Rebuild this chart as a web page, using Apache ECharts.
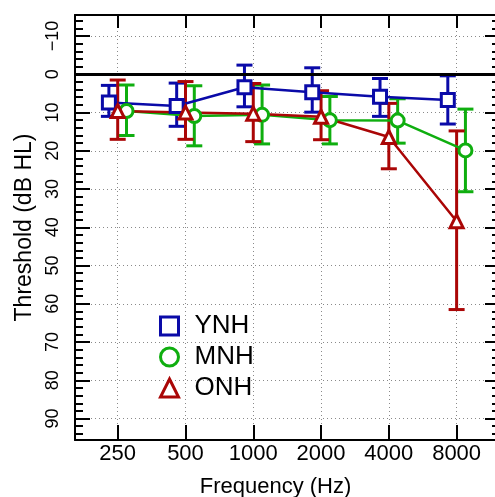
<!DOCTYPE html>
<html lang="en">
<head>
    <meta charset="UTF-8">
    <title>Audiogram</title>
    <script src="https://cdn.jsdelivr.net/npm/echarts@6/dist/echarts.min.js"></script>
    <style type="text/css">
        html, body {
            margin: 0;
            padding: 0;
            background: #fff;
        }
        #chart {
            width: 495px;
            height: 497px;
        }
    </style>
</head>
<body>
<div id="chart"></div>
<script type="text/javascript">
    // frequencies (x axis, one octave apart)
    var freqLabels = ['250', '500', '1000', '2000', '4000', '8000'];

    // mean thresholds and error bar ends (dB HL)
    var ynhMean = [7.4, 8.3, 3.4, 4.7, 5.9, 6.7];
    var ynhLow  = [2.9, 2.3, -2.4, -1.7, 1.1, 0.4];
    var ynhHigh = [11, 13.6, 8.5, 9.9, 11, 13];

    var mnhMean = [9.6, 10.9, 10.6, 12, 12.1, 19.9];
    var mnhLow  = [2.8, 3, 2.8, 5.8, 6.4, 9.1];
    var mnhHigh = [16, 18.7, 18.2, 18.2, 18, 30.7];

    var onhMean = [9.6, 10, 10.3, 11.1, 16.4, 38.4];
    var onhLow  = [1.5, 1.9, 2.4, 4.3, 7.6, 14.8];
    var onhHigh = [17, 17, 17.6, 17.1, 24.7, 61.5];

    var groups = [
        {name: 'YNH', mean: ynhMean, low: ynhLow, high: ynhHigh, color: '#0a0aa8', symbol: 'rect', shift: -0.13},
        {name: 'MNH', mean: mnhMean, low: mnhLow, high: mnhHigh, color: '#0fae0f', symbol: 'circle', shift: 0.13},
        {name: 'ONH', mean: onhMean, low: onhLow, high: onhHigh, color: '#aa0606', symbol: 'triangle', shift: 0}
    ];

    var font = 'Liberation Sans';

    var chart = echarts.init(document.getElementById('chart'));

    function renderErr(params, api) {
        var x = api.value(0);
        var p1 = api.coord([x, api.value(1)]);
        var p2 = api.coord([x, api.value(2)]);
        var w = 8;
        var style = {stroke: api.visual('color'), lineWidth: 3};
        return {
            type: 'group',
            children: [
                {type: 'line', shape: {x1: p1[0], y1: p1[1], x2: p2[0], y2: p2[1]}, style: style},
                {type: 'line', shape: {x1: p1[0] - w, y1: p1[1], x2: p1[0] + w, y2: p1[1]}, style: style},
                {type: 'line', shape: {x1: p2[0] - w, y1: p2[1], x2: p2[0] + w, y2: p2[1]}, style: style}
            ]
        };
    }

    function xLabel(v) {
        var i = Math.round(v);
        if (Math.abs(v - i) > 1e-6 || i < 0 || i >= freqLabels.length) return '';
        return freqLabels[i];
    }

    var series = [];
    var legendData = [];
    groups.forEach(function (g) {
        var err = [], pts = [];
        for (var i = 0; i < g.mean.length; i++) {
            err.push([i + g.shift, g.low[i], g.high[i]]);
            pts.push([i + g.shift, g.mean[i]]);
        }
        series.push({
            type: 'custom',
            name: g.name + ' sd',
            renderItem: renderErr,
            itemStyle: {color: g.color},
            encode: {x: 0, y: [1, 2]},
            data: err,
            silent: true
        });
        series.push({
            type: 'line',
            name: g.name,
            data: pts,
            symbol: g.symbol,
            symbolSize: 13,
            lineStyle: {color: g.color, width: 2.5},
            itemStyle: {color: '#fff', borderColor: g.color, borderWidth: 3},
            silent: true
        });
        legendData.push({
            name: g.name,
            icon: g.symbol,
            itemStyle: {color: '#fff', borderColor: g.color, borderWidth: 3}
        });
    });

    // 0 dB reference line
    series[1].markLine = {
        silent: true,
        symbol: 'none',
        label: {show: false},
        lineStyle: {color: '#000', width: 3, type: 'solid'},
        data: [{yAxis: 0}]
    };

    var dotted = {show: true, lineStyle: {color: '#8a8a8a', width: 1, type: [1, 3]}};
    var frame = {show: true, onZero: false, lineStyle: {color: '#000', width: 2}};

    var option = {
        animation: false,
        grid: {left: 75, top: 15, width: 425, height: 425, outerBoundsMode: 'none', containLabel: false},
        legend: {
            orient: 'vertical',
            left: 154,
            top: 308,
            itemWidth: 18,
            itemHeight: 18,
            itemGap: 5,
            selectedMode: false,
            textStyle: {fontFamily: font, fontSize: 26, color: '#000', padding: [0, 0, 0, 11]},
            data: legendData
        },
        xAxis: [{
            type: 'value',
            min: -0.63,
            max: 5.64,
            minInterval: 1,
            maxInterval: 1,
            name: 'Frequency (Hz)',
            nameLocation: 'middle',
            nameGap: 36,
            nameTextStyle: {fontFamily: font, fontSize: 22, color: '#000', padding: [0, 24, 0, 0]},
            axisLine: frame,
            axisTick: {inside: true, length: 15, lineStyle: {color: '#000', width: 2}},
            axisLabel: {
                fontFamily: font, fontSize: 22, color: '#000', margin: 3,
                showMinLabel: false, showMaxLabel: false, formatter: xLabel
            },
            splitLine: dotted
        }, {
            type: 'value',
            position: 'top',
            min: -0.63,
            max: 5.64,
            minInterval: 1,
            maxInterval: 1,
            axisLine: frame,
            axisTick: {inside: true, length: 13, lineStyle: {color: '#000', width: 2}},
            axisLabel: {show: false},
            splitLine: {show: false}
        }],
        yAxis: [{
            type: 'value',
            inverse: true,
            min: -15.5,
            max: 95.6,
            minInterval: 10,
            maxInterval: 10,
            name: 'Threshold (dB HL)',
            nameLocation: 'middle',
            nameGap: 28,
            nameTextStyle: {fontFamily: font, fontSize: 23, color: '#000'},
            axisLine: frame,
            axisTick: {inside: true, length: 15, lineStyle: {color: '#000', width: 2}},
            minorTick: {show: true, splitNumber: 5, length: 8, lineStyle: {color: '#000', width: 2}},
            axisLabel: {
                fontFamily: font, fontSize: 18, color: '#000', rotate: 90, margin: 12.5,
                showMinLabel: false, showMaxLabel: false,
                formatter: function (v) { return v < 0 ? '\u2212' + (-v) : String(v); }
            },
            splitLine: dotted
        }, {
            type: 'value',
            position: 'right',
            inverse: true,
            min: -15.5,
            max: 95.6,
            minInterval: 10,
            maxInterval: 10,
            axisLine: frame,
            axisTick: {inside: true, length: 15, lineStyle: {color: '#000', width: 2}},
            minorTick: {show: true, splitNumber: 5, length: 8, lineStyle: {color: '#000', width: 2}},
            axisLabel: {show: false},
            splitLine: {show: false}
        }],
        series: series
    };

    chart.setOption(option);
</script>
</body>
</html>
